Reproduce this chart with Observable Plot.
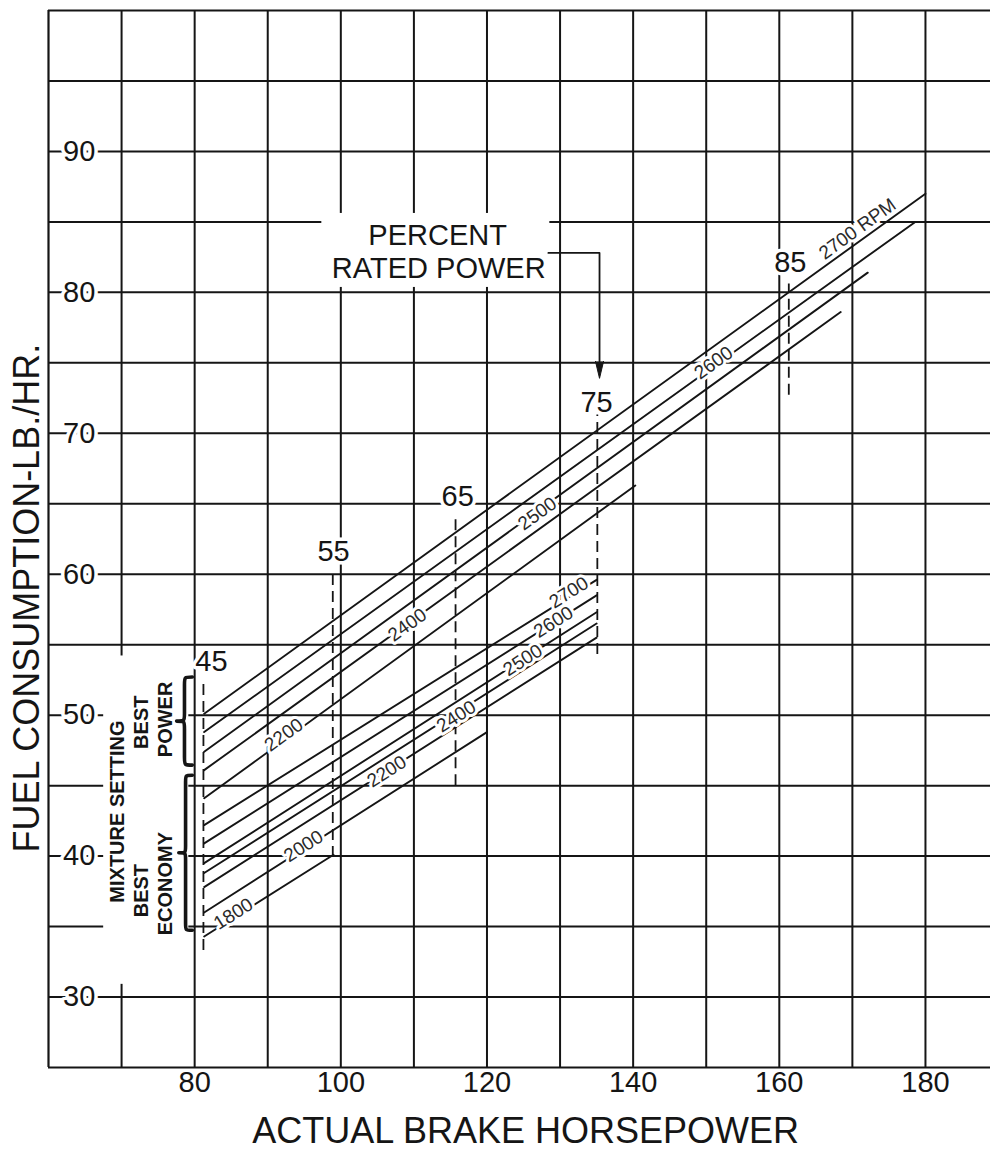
<!DOCTYPE html>
<html><head><meta charset="utf-8">
<script src="https://cdn.jsdelivr.net/npm/d3@7"></script>
<script src="https://cdn.jsdelivr.net/npm/@observablehq/plot@0.6"></script>
<style>body{margin:0;background:#fff}#chart svg{display:block}</style>
</head><body><div id="chart"></div>
<script>
// ---------- data ----------
const xTicks = [80, 100, 120, 140, 160, 180];
const yTicks = [30, 40, 50, 60, 70, 80, 90];
const gridX = [70, 80, 90, 100, 110, 120, 130, 140, 150, 160, 170, 180];
const gridY = [30, 35, 40, 45, 50, 55, 60, 65, 70, 75, 80, 85, 90, 95];

const startX = 81.3;
// best power mixture
const upperRpm = ["2700", "2600", "2500", "2400", "2200"];
const upperY0 = [50.1, 48.8, 47.4, 46.1, 44.1];
const upperX1 = [180.0, 178.6, 172.1, 168.4, 140.3];
const upperY1 = [87.0, 85.0, 81.4, 78.6, 66.3];
const upperLabel = ["2700 RPM", "2600", "2500", "2400", "2200"];
const upperLabelX = [170.7, 151.0, 126.9, 109.1, 92.2];
const upperLabelY = [84.5, 75.0, 64.3, 56.4, 48.6];
// best economy mixture
const lowerRpm = ["2700", "2600", "2500", "2400", "2200", "2000", "1800"];
const lowerY0 = [42.2, 40.9, 39.5, 38.8, 37.8, 36.0, 34.3];
const lowerX1 = [135, 135, 135, 135, 135, 120, 99];
const lowerY1 = [59.6, 58.5, 57.3, 56.5, 55.5, 48.8, 40.1];
const lowerLabelX = [131.2, 129.1, 124.9, 115.8, 106.3, 94.9, 85.3];
const lowerLabelY = [58.7, 56.6, 53.9, 49.9, 46.0, 40.7, 35.9];

// percent rated power
const pctLabel = ["45", "55", "65", "75", "85"];
const pctX = [81.2, 98.9, 115.7, 135.1, 161.3];
const pctYTop = [52.5, 60.3, 64.0, 71.3, 80.6];
const pctYBot = [33.3, 39.9, 45.0, 54.3, 72.7];
const pctLabelX = [82.3, 99.0, 116.0, 135.0, 161.5];
const pctLabelY = [53.8, 61.6, 65.5, 72.2, 82.1];

// white knock-out areas
const blankX1 = [67.55, 97.4], blankX2 = [79.2, 128.6];
const blankY1 = [30.9, 80.35], blankY2 = [54.2, 85.6];

// arrow from the "PERCENT RATED POWER" note
const arrowX = [128.4, 135.4, 135.4];
const arrowY = [82.8, 82.8, 75.1];
const headX = [134.85, 135.4, 135.95];
const headY = [75.1, 73.9, 75.1];

// mixture braces
const braceRight = [79.75, 79.75];
const braceTip = [77.6, 77.9];
const braceTop = [52.67, 45.7];
const braceBottom = [46.42, 34.7];

// texts
const noteText = ["PERCENT", "RATED POWER"];
const noteX = [113.25, 113.4];
const noteY = [84.04, 81.7];
const mixText = ["MIXTURE SETTING", "BEST", "ECONOMY", "BEST", "POWER"];
const mixX = [69.46, 72.8, 76.0, 72.75, 76.0];
const mixY = [43.16, 37.55, 38.05, 49.5, 49.7];
const xTitle = "ACTUAL BRAKE HORSEPOWER";
const yTitle = "FUEL CONSUMPTION-LB./HR.";

// ---------- layout ----------
const W = 990, H = 1157, mL = 48, mR = 0, mT = 10, mB = 90;
const xDomain = [60, 188.9], yDomain = [25, 100];
const kx = (W - mL - mR) / (xDomain[1] - xDomain[0]);
const ky = (H - mT - mB) / (yDomain[1] - yDomain[0]);
const font = "Liberation Sans, Arial, Helvetica, sans-serif";
const ink = "#151515";

// build tables
const lines = [];
const labels = [];
function addGroup(g, rpm, y0, x1, y1, lab, lx, ly) {
  rpm.forEach((r, i) => {
    const id = g + r;
    lines.push({id, x: startX, y: y0[i]}, {id, x: x1[i], y: y1[i]});
    const slope = (y1[i] - y0[i]) / (x1[i] - startX);
    labels.push({text: lab[i], x: lx[i], y: ly[i],
      angle: -Math.atan(slope * ky / kx) * 180 / Math.PI});
  });
}
addGroup("P", upperRpm, upperY0, upperX1, upperY1, upperLabel, upperLabelX, upperLabelY);
addGroup("E", lowerRpm, lowerY0, lowerX1, lowerY1, lowerRpm, lowerLabelX, lowerLabelY);

const pct = pctLabel.map((t, i) => ({t, x: pctX[i], y1: pctYBot[i], y2: pctYTop[i], lx: pctLabelX[i], ly: pctLabelY[i]}));
const blanks = blankX1.map((d, i) => ({x1: d, x2: blankX2[i], y1: blankY1[i], y2: blankY2[i]}));
const arrow = arrowX.map((x, i) => ({x, y: arrowY[i]}));
const head = headX.map((x, i) => ({x, y: headY[i]}));
const notes = noteText.map((t, i) => ({t, x: noteX[i], y: noteY[i]}));
const mix = mixText.map((t, i) => ({t, x: mixX[i], y: mixY[i]}));

function halo(data, opts, w) {
  return [
    Plot.text(data, {...opts, fill: "white", stroke: "white", strokeWidth: w}),
    Plot.text(data, opts)
  ];
}

function braces(index, scales) {
  const g = d3.create("svg:g").attr("fill", "none").attr("stroke", ink)
    .attr("stroke-width", 3.6).attr("stroke-linecap", "round").attr("stroke-linejoin", "round");
  braceTop.forEach((_, i) => {
    const xr = scales.x(braceRight[i]), xl = scales.x(braceTip[i]);
    const y0 = scales.y(braceTop[i]), y1 = scales.y(braceBottom[i]);
    const xm = (xr + xl) / 2, r = (xr - xl) / 2, mid = (y0 + y1) / 2;
    const p = d3.path();
    p.moveTo(xr, y0);
    p.bezierCurveTo(xm, y0, xm, y0, xm, y0 + r);
    p.lineTo(xm, mid - r);
    p.bezierCurveTo(xm, mid, xm, mid, xl, mid);
    p.bezierCurveTo(xm, mid, xm, mid, xm, mid + r);
    p.lineTo(xm, y1 - r);
    p.bezierCurveTo(xm, y1, xm, y1, xr, y1);
    g.append("path").attr("d", p.toString());
  });
  return g.node();
}

const chart = Plot.plot({
  width: W, height: H,
  marginLeft: mL, marginRight: mR, marginTop: mT, marginBottom: mB,
  style: {background: "#fff", fontFamily: font, overflow: "visible"},
  x: {domain: xDomain, axis: null},
  y: {domain: yDomain, axis: null},
  marks: [
    Plot.ruleX(gridX, {stroke: ink, strokeWidth: 2}),
    Plot.ruleY(gridY, {stroke: ink, strokeWidth: 2}),
    Plot.ruleX([xDomain[0]], {stroke: ink, strokeWidth: 2.2}),
    Plot.ruleY([yDomain[0], yDomain[1]], {stroke: ink, strokeWidth: 2.2}),
    Plot.rect(blanks, {x1: "x1", x2: "x2", y1: "y1", y2: "y2", fill: "white"}),
    Plot.ruleX(pct, {x: "x", y1: "y1", y2: "y2", stroke: ink, strokeWidth: 1.8, strokeDasharray: "11,6"}),
    Plot.line(lines, {x: "x", y: "y", z: "id", stroke: ink, strokeWidth: 1.9}),
    Plot.line(arrow, {x: "x", y: "y", stroke: ink, strokeWidth: 1.8}),
    Plot.line(head, {x: "x", y: "y", stroke: ink, strokeWidth: 1, fill: ink}),
    braces,
    ...halo(labels, {x: "x", y: "y", text: "text", rotate: "angle", fontSize: 19, fill: "#2a2a2a", fontFamily: font}, 6),
    ...halo(yTicks, {x: 64.2, y: d => d, text: d => String(d), fontSize: 29, fill: ink, fontFamily: font}, 7),
    ...halo(pct, {x: "lx", y: "ly", text: "t", fontSize: 29, fill: ink, fontFamily: font}, 7),
    Plot.text(notes, {x: "x", y: "y", text: "t", fontSize: 29, fill: ink, fontFamily: font}),
    Plot.text(mix, {x: "x", y: "y", text: "t", rotate: -90, fontSize: 20, fontWeight: "bold", fill: ink, fontFamily: font}),
    Plot.text(xTicks, {x: d => d, frameAnchor: "bottom", dy: 24, text: d => String(d), fontSize: 29, fill: ink, fontFamily: font}),
    Plot.text([xTitle], {x: 125.3, frameAnchor: "bottom", dy: 75, text: d => d, fontSize: 36, fill: ink, fontFamily: font}),
    Plot.text([yTitle], {x: 57.15, y: 58.3, rotate: -90, text: d => d, fontSize: 36, fill: ink, fontFamily: font})
  ]
});
document.getElementById("chart").appendChild(chart);
</script></body></html>
